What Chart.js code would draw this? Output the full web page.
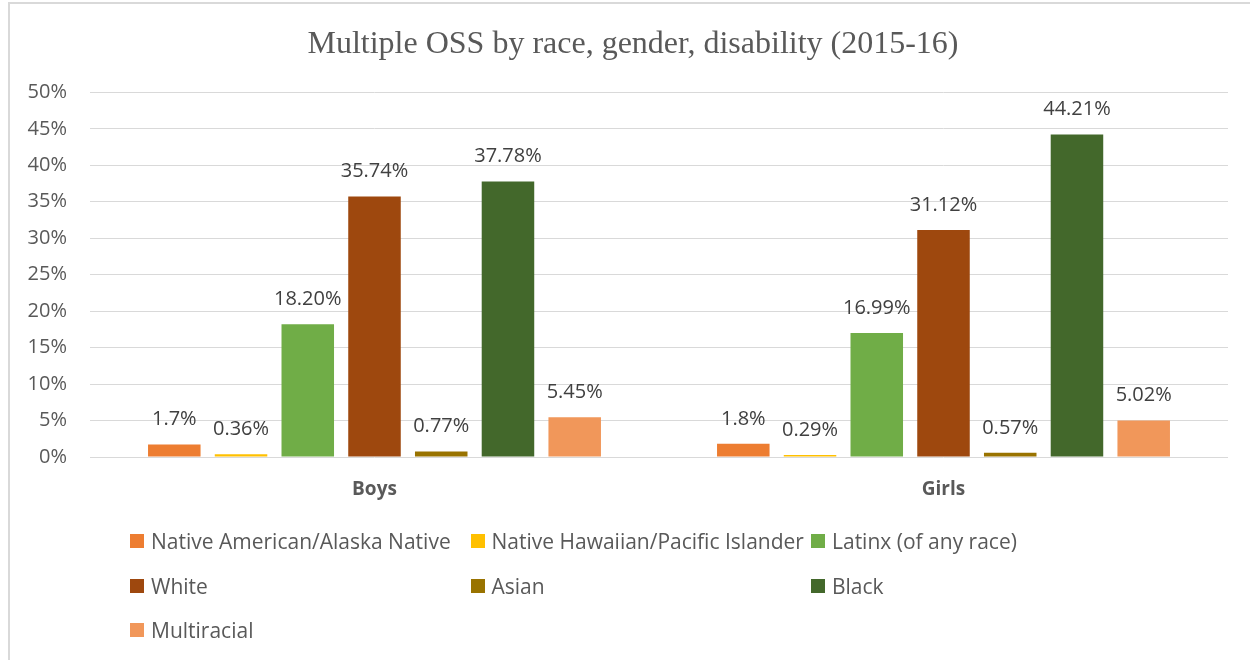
<!DOCTYPE html>
<html>
<head>
<meta charset="utf-8">
<script src="https://cdn.jsdelivr.net/npm/chart.js@4"></script>
<style>
  html, body { margin: 0; padding: 0; background: #fff; }
  body { width: 1250px; height: 660px; position: relative; overflow: hidden; }
  .frame {
    position: absolute; left: 8px; top: 2px; width: 1300px; height: 700px;
    border-left: 2px solid #d9d9d9; border-top: 2px solid #d9d9d9;
  }
  #wrap { position: absolute; left: 0; top: 0; width: 1250px; height: 660px; }
  #legend {
    position: absolute; left: 130px; top: 519px;
    display: grid; grid-template-columns: repeat(3, 340.5px); grid-auto-rows: 44.5px;
    font-family: "Open Sans", sans-serif; font-size: 21px; color: #595959;
  }
  #legend .item { display: flex; align-items: center; white-space: nowrap; }
  #legend .box { width: 14px; height: 14px; margin-right: 7px; flex: none; }
</style>
</head>
<body>
<div class="frame"></div>
<div id="wrap"><canvas id="oss"></canvas></div>
<div id="legend"></div>
<script>
// datos
const categories = ['Boys', 'Girls'];
const seriesNames = [
  'Native American/Alaska Native',
  'Native Hawaiian/Pacific Islander',
  'Latinx (of any race)',
  'White',
  'Asian',
  'Black',
  'Multiracial'
];
const nativeAmerican = [1.7, 1.8];
const nativeHawaiian = [0.36, 0.29];
const latinx = [18.20, 16.99];
const white = [35.74, 31.12];
const asian = [0.77, 0.57];
const black = [37.78, 44.21];
const multiracial = [5.45, 5.02];
const labelDecimals = [1, 2, 2, 2, 2, 2, 2];
const yTicks = [0, 5, 10, 15, 20, 25, 30, 35, 40, 45, 50];

const colors = ['#ED7D31', '#FFC000', '#70AD47', '#9E480E', '#997300', '#43682B', '#F1975A'];
const seriesValues = [nativeAmerican, nativeHawaiian, latinx, white, asian, black, multiracial];

// etiquetas de valor encima de cada barra
const valueLabels = {
  id: 'valueLabels',
  afterDatasetsDraw(chart) {
    const ctx = chart.ctx;
    ctx.save();
    ctx.font = '20px "Open Sans"';
    ctx.fillStyle = '#404040';
    ctx.textAlign = 'center';
    ctx.textBaseline = 'middle';
    chart.data.datasets.forEach((ds, i) => {
      const meta = chart.getDatasetMeta(i);
      meta.data.forEach((bar, j) => {
        const txt = ds.data[j].toFixed(labelDecimals[i]) + '%';
        ctx.fillText(txt, bar.x, bar.y - 25);
      });
    });
    ctx.restore();
  }
};

document.addEventListener("DOMContentLoaded", () => {
  const ctx = document.getElementById('oss');
  const chart = new Chart(ctx.getContext('2d'), {
    type: 'bar',
    data: {
      labels: categories,
      datasets: seriesNames.map((name, i) => ({
        label: name,
        data: seriesValues[i],
        backgroundColor: colors[i],
        borderWidth: 0,
        categoryPercentage: 0.821,
        barPercentage: 0.787
      }))
    },
    options: {
      responsive: true,
      maintainAspectRatio: false,
      animation: false,
      layout: { padding: { left: 16, right: 0, top: 0, bottom: 153 } },
      plugins: {
        legend: { display: false },
        tooltip: { enabled: false },
        title: {
          display: true,
          text: 'Multiple OSS by race, gender, disability (2015-16)',
          color: '#595959',
          font: { family: '"Liberation Serif", serif', size: 32, weight: 'normal', lineHeight: 1.2 },
          padding: { top: 25, bottom: 29 }
        }
      },
      scales: {
        x: {
          grid: { display: false },
          border: { display: false },
          ticks: {
            color: '#595959',
            padding: 13,
            font: { family: '"Open Sans"', size: 19, weight: 'bold' }
          },
          afterFit: (scale) => { scale.height = 50; }
        },
        y: {
          min: 0,
          max: 50,
          border: { display: false },
          grid: { color: '#d9d9d9', lineWidth: 1, drawTicks: false },
          ticks: {
            stepSize: 5,
            padding: 23,
            color: '#595959',
            font: { family: '"Open Sans"', size: 20 },
            callback: (v) => v + '%'
          },
          afterBuildTicks: (scale) => { scale.ticks = yTicks.map(v => ({ value: v })); },
          afterFit: (scale) => { scale.width = 74; }
        },
        // eje vacío a la derecha, solo para dejar el margen
        yRight: {
          position: 'right',
          display: true,
          grid: { display: false },
          border: { display: false },
          ticks: { display: false },
          afterFit: (scale) => { scale.width = 22; }
        }
      }
    },
    plugins: [valueLabels]
  });

  // leyenda en tres columnas
  const legend = document.getElementById('legend');
  chart.data.datasets.forEach((ds) => {
    const item = document.createElement('div');
    item.className = 'item';
    const box = document.createElement('span');
    box.className = 'box';
    box.style.background = ds.backgroundColor;
    const label = document.createElement('span');
    label.textContent = ds.label;
    item.appendChild(box);
    item.appendChild(label);
    legend.appendChild(item);
  });
});
</script>
</body>
</html>
